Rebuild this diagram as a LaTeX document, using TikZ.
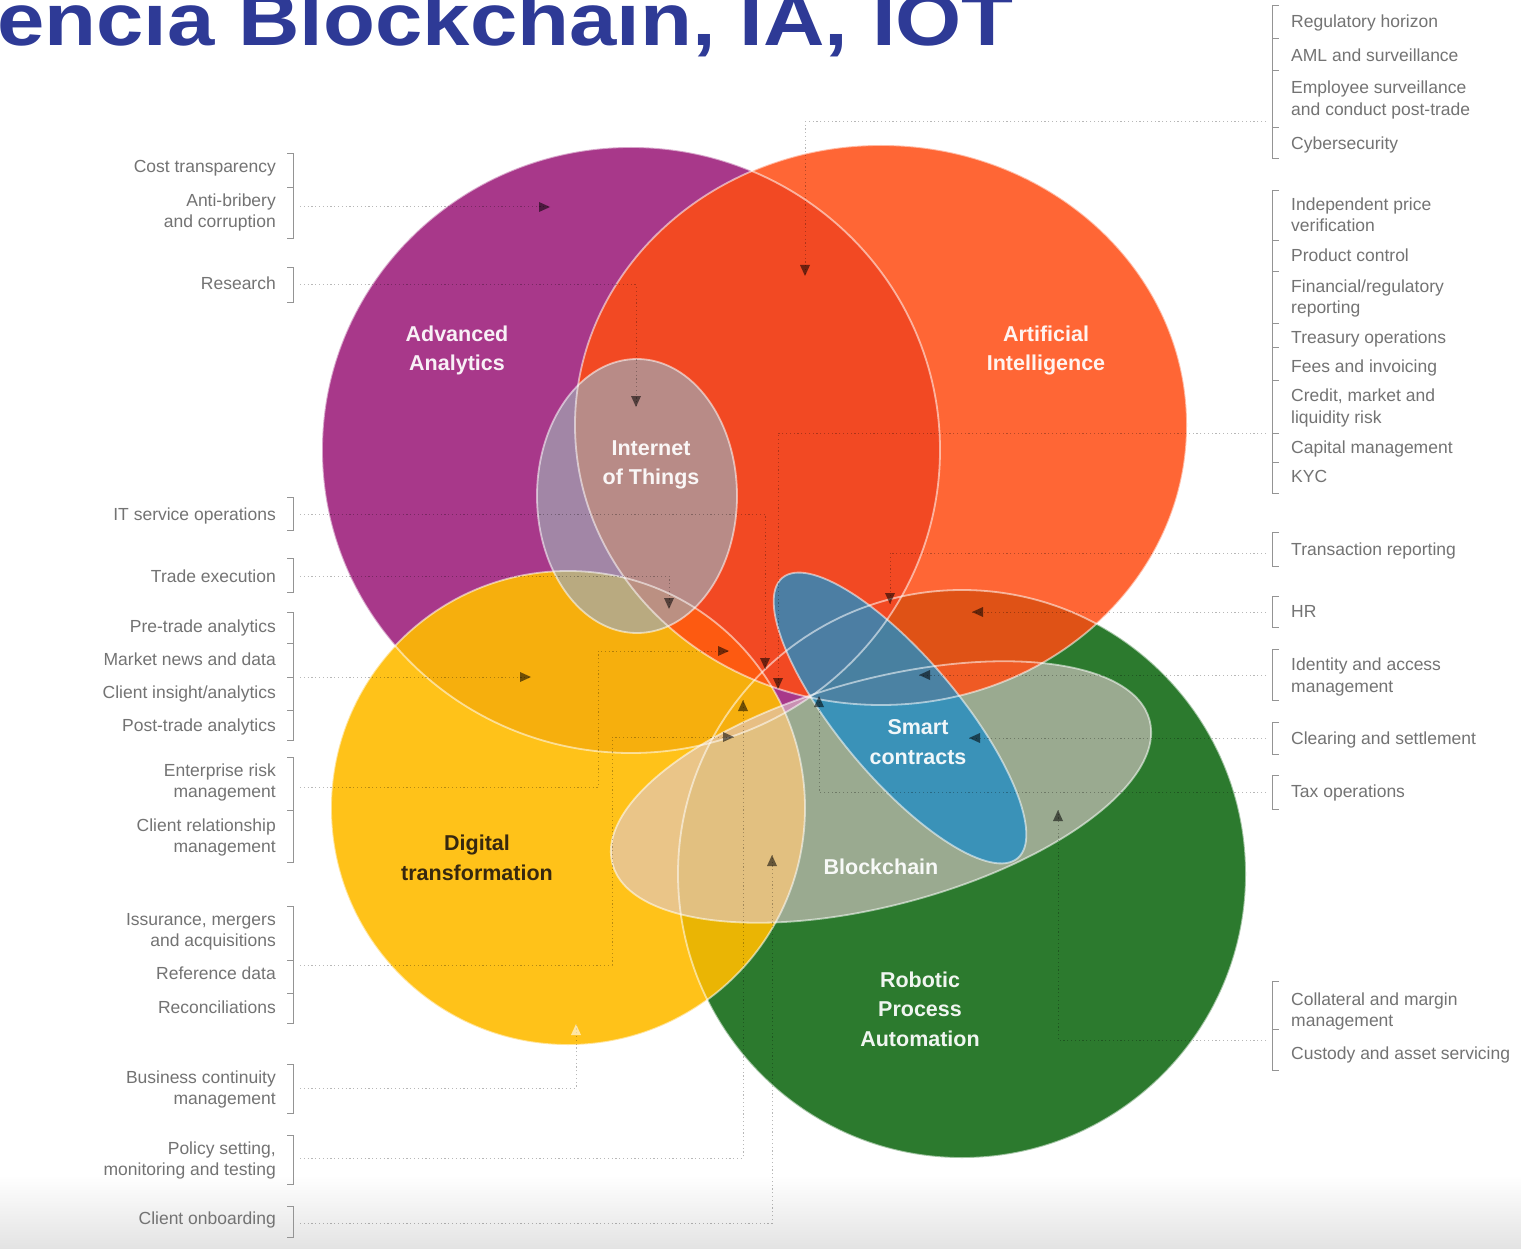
\documentclass[tikz,border=0pt]{standalone}
\usepackage{fontspec}
\setmainfont{Liberation Sans}
\usetikzlibrary{arrows.meta}
\definecolor{cPurple}{RGB}{168,56,138}
\definecolor{cOrange}{RGB}{255,76,18}
\definecolor{cYellow}{RGB}{255,188,0}
\definecolor{cGreen}{RGB}{44,122,46}
\definecolor{cBlue}{RGB}{35,140,195}
\definecolor{cIot}{RGB}{160,168,178}
\definecolor{cChain}{RGB}{222,200,205}
\definecolor{cTitle}{RGB}{46,58,150}
\definecolor{cLabel}{RGB}{115,115,115}
\definecolor{cDark}{RGB}{55,40,15}
% shapes
\newcommand\shGreen[1]{\path[#1] (962,874) circle [radius=284pt];}
\newcommand\shPurple[1]{\path[#1] (631,450) ellipse [x radius=309pt, y radius=303pt];}
\newcommand\shYellow[1]{\path[#1] (568,808) circle [radius=237pt];}
\newcommand\shOrange[1]{\path[#1] (881,425) ellipse [x radius=306pt, y radius=280pt];}
\newcommand\shChain[1]{\path[#1, rotate around={15:(881,792)}] (881,792) ellipse [x radius=278pt, y radius=113pt];}
\newcommand\shIot[1]{\path[#1] (637,496) ellipse [x radius=100pt, y radius=137pt];}
\newcommand\shSmart[1]{\path[#1, rotate around={-50:(900,718)}] (900,718) ellipse [x radius=183pt, y radius=60pt];}
% labels
\newcommand\lab[3]{\node[lbl,anchor=base east] (#1) at (276,#2+5.5) {#3};}
\newcommand\rab[3]{\node[lbl,anchor=base west] (#1) at (1291,#2+5.5) {#3};}
% brackets
\newcommand\lbr[2]{\draw[brk] (287,#1) -- (293,#1) -- (293,#2) -- (287,#2);}
\newcommand\lsep[1]{\draw[brk] (287,#1) -- (293,#1);}
\newcommand\rbr[2]{\draw[brk] (1279,#1) -- (1272,#1) -- (1272,#2) -- (1279,#2);}
\newcommand\rsep[1]{\draw[brk] (1272,#1) -- (1279,#1);}
% arrow tips
\newcommand\tipR[2][tipc]{\fill[#1] (#2) -- ++(-11,-5) -- ++(0,10) -- cycle;}
\newcommand\tipL[2][tipc]{\fill[#1] (#2) -- ++(11,-5) -- ++(0,10) -- cycle;}
\newcommand\tipD[2][tipc]{\fill[#1] (#2) -- ++(-5,-11) -- ++(10,0) -- cycle;}
\newcommand\tipU[2][tipc]{\fill[#1] (#2) -- ++(-5,11) -- ++(10,0) -- cycle;}
\begin{document}
\begin{tikzpicture}[x=1pt,y=-1pt,
  lbl/.style={inner sep=0pt, text=cLabel, font=\fontsize{17.5}{21}\selectfont},
  big/.style={inner sep=0pt, align=center, text=white, text opacity=.93, font=\bfseries\fontsize{21.5}{29.5}\selectfont},
  outl/.style={draw=white, draw opacity=.55, line width=1.8pt},
  conn/.style={draw=black, draw opacity=.28, line width=1pt, dash pattern=on 1.2pt off 2.6pt},
  brk/.style={draw=black!42, line width=.9pt},
  tipc/.style={fill=black, fill opacity=.55},
  tiplight/.style={fill=white, fill opacity=.6}]
\useasboundingbox (0,0) rectangle (1521,1249);
\clip (0,0) rectangle (1521,1249);
\fill[white] (0,0) rectangle (1521,1249);
\shade[top color=white, bottom color=black!11] (0,1175) rectangle (1521,1249);

% title (cut at the top and left edges, as in the reference)
\node[anchor=base west, inner sep=0pt, text=cTitle, font=\bfseries\fontsize{74}{74}\selectfont] (title) at (-3,45.5) {\scalebox{1.15}[1]{encia Blockchain, IA, IOT}};

% fills
\shGreen{fill=cGreen}
\shPurple{fill=cPurple}
\shYellow{fill=cYellow, fill opacity=.9}
\shChain{fill=cChain, fill opacity=.62}
\shOrange{fill=cOrange, fill opacity=.85}
\shIot{fill=cIot, fill opacity=.7}
\shSmart{fill=cBlue, fill opacity=.8}
% outlines
\shGreen{outl}
\shPurple{outl}
\shYellow{outl}
\shChain{outl}
\shOrange{outl}
\shIot{outl}
\shSmart{outl}

% connector coordinates
\coordinate (sL1) at (300,207);  \coordinate (eL1) at (550,207);
\coordinate (sL2) at (300,285);  \coordinate (eL2) at (636,407);
\coordinate (sL3) at (300,514);  \coordinate (eL3) at (765,669);
\coordinate (sL4) at (300,576);  \coordinate (eL4) at (669,609);
\coordinate (sL5) at (300,677);  \coordinate (eL5) at (531,677);
\coordinate (sL6) at (300,787);  \coordinate (cL6) at (598,651); \coordinate (eL6) at (729,651);
\coordinate (sL7) at (300,965);  \coordinate (cL7) at (612,737); \coordinate (eL7) at (734,737);
\coordinate (sL8) at (300,1088); \coordinate (eL8) at (576,1024);
\coordinate (sL9) at (300,1158); \coordinate (eL9) at (743,700);
\coordinate (sL10) at (300,1223); \coordinate (eL10) at (772,855);
\coordinate (sR1) at (1266,122); \coordinate (eR1) at (805,276);
\coordinate (sR2) at (1266,433); \coordinate (eR2) at (778,689);
\coordinate (sR3) at (1266,553); \coordinate (eR3) at (890,604);
\coordinate (sR4) at (1266,612); \coordinate (eR4) at (972,612);
\coordinate (sR5) at (1266,675); \coordinate (eR5) at (919,675);
\coordinate (sR6) at (1266,738); \coordinate (eR6) at (969,738);
\coordinate (sR7) at (1266,792); \coordinate (eR7) at (819,696);
\coordinate (sR8) at (1266,1040); \coordinate (eR8) at (1058,810);

% connectors
\draw[conn] (sL1) -- (eL1);  \tipR{eL1}
\draw[conn] (sL2) -| (eL2);  \tipD{eL2}
\draw[conn] (sL3) -| (eL3);  \tipD{eL3}
\draw[conn] (sL4) -| (eL4);  \tipD{eL4}
\draw[conn] (sL5) -- (eL5);  \tipR{eL5}
\draw[conn] (sL6) -| (cL6) -- (eL6); \tipR{eL6}
\draw[conn] (sL7) -| (cL7) -- (eL7); \tipR{eL7}
\draw[conn] (sL8) -| (eL8);  \tipU[tiplight]{eL8}
\draw[conn] (sL9) -| (eL9);  \tipU{eL9}
\draw[conn] (sL10) -| (eL10); \tipU{eL10}
\draw[conn] (sR1) -| (eR1);  \tipD{eR1}
\draw[conn] (sR2) -| (eR2);  \tipD{eR2}
\draw[conn] (sR3) -| (eR3);  \tipD{eR3}
\draw[conn] (sR4) -- (eR4);  \tipL{eR4}
\draw[conn] (sR5) -- (eR5);  \tipL{eR5}
\draw[conn] (sR6) -- (eR6);  \tipL{eR6}
\draw[conn] (sR7) -| (eR7);  \tipU{eR7}
\draw[conn] (sR8) -| (eR8);  \tipU{eR8}

% brackets left
\lbr{153}{238} \lsep{187}
\lbr{267}{302}
\lbr{497}{530}
\lbr{558}{592}
\lbr{612}{740} \lsep{643} \lsep{677} \lsep{710}
\lbr{757}{862} \lsep{810}
\lbr{906}{1023} \lsep{960} \lsep{993}
\lbr{1064}{1113}
\lbr{1135}{1184}
\lbr{1206}{1237}
% brackets right
\rbr{5}{158} \rsep{38} \rsep{70} \rsep{127}
\rbr{190}{493} \rsep{240} \rsep{271} \rsep{323} \rsep{347} \rsep{380} \rsep{433} \rsep{462}
\rbr{532}{566}
\rbr{596}{627}
\rbr{649}{700}
\rbr{722}{754}
\rbr{775}{809}
\rbr{981}{1070} \rsep{1029}

% left labels
\lab{la1}{167}{Cost transparency}
\lab{la2}{201}{Anti-bribery}
\lab{la3}{222}{and corruption}
\lab{lb1}{284}{Research}
\lab{lc1}{515}{IT service operations}
\lab{ld1}{577}{Trade execution}
\lab{le1}{627}{Pre-trade analytics}
\lab{le2}{660}{Market news and data}
\lab{le3}{693}{Client insight/analytics}
\lab{le4}{726}{Post-trade analytics}
\lab{lf1}{771}{Enterprise risk}
\lab{lf2}{792}{management}
\lab{lf3}{826}{Client relationship}
\lab{lf4}{847}{management}
\lab{lg1}{920}{Issurance, mergers}
\lab{lg2}{941}{and acquisitions}
\lab{lg3}{974}{Reference data}
\lab{lg4}{1008}{Reconciliations}
\lab{lh1}{1078}{Business continuity}
\lab{lh2}{1099}{management}
\lab{li1}{1149}{Policy setting,}
\lab{li2}{1170}{monitoring and testing}
\lab{lj1}{1219}{Client onboarding}
% right labels
\rab{ra1}{22}{Regulatory horizon}
\rab{ra2}{56}{AML and surveillance}
\rab{ra3}{88}{Employee surveillance}
\rab{ra4}{110}{and conduct post-trade}
\rab{ra5}{144}{Cybersecurity}
\rab{rb1}{205}{Independent price}
\rab{rb2}{226}{verification}
\rab{rb3}{256}{Product control}
\rab{rb4}{287}{Financial/regulatory}
\rab{rb5}{308}{reporting}
\rab{rb6}{338}{Treasury operations}
\rab{rb7}{367}{Fees and invoicing}
\rab{rb8}{396}{Credit, market and}
\rab{rb9}{418}{liquidity risk}
\rab{rb10}{448}{Capital management}
\rab{rb11}{477}{KYC}
\rab{rc1}{550}{Transaction reporting}
\rab{rd1}{612}{HR}
\rab{re1}{665}{Identity and access}
\rab{re2}{687}{management}
\rab{rf1}{739}{Clearing and settlement}
\rab{rg1}{792}{Tax operations}
\rab{rh1}{1000}{Collateral and margin}
\rab{rh2}{1021}{management}
\rab{rh3}{1054}{Custody and asset servicing}

% shape texts
\node[big] (tAA) at (457,350.5) {Advanced\\Analytics};
\node[big] (tAI) at (1046,350.5) {Artificial\\Intelligence};
\node[big] (tIoT) at (651,465) {Internet\\of Things};
\node[big, text=cDark, text opacity=1] (tDT) at (477,858) {Digital\\transformation};
\node[big] (tSC) at (918,742) {Smart\\contracts};
\node[big] (tBC) at (881,867) {Blockchain};
\node[big] (tRPA) at (920,1009) {Robotic\\Process\\Automation};
\end{tikzpicture}
\end{document}
